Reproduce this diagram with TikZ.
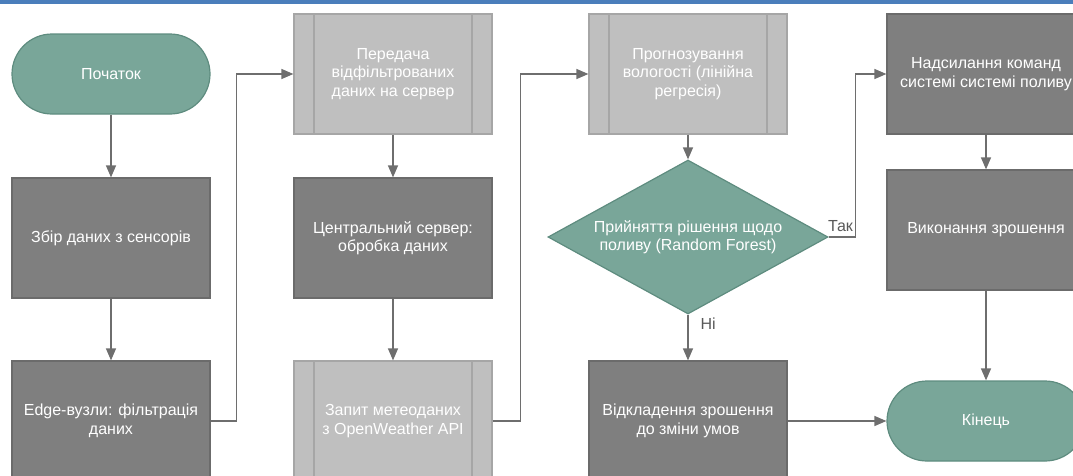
\documentclass[tikz,border=0pt]{standalone}
\usepackage{fontspec}
\setmainfont{Liberation Sans}
\usetikzlibrary{shapes.geometric, arrows.meta, positioning}

\definecolor{darkbox}{HTML}{7F7F7F}
\definecolor{darkline}{HTML}{6B6B6B}
\definecolor{lightbox}{HTML}{BFBFBF}
\definecolor{lightline}{HTML}{A6A6A6}
\definecolor{tealbox}{HTML}{79A699}
\definecolor{tealline}{HTML}{5E8C7F}
\definecolor{arrowgray}{HTML}{6E6E6E}
\definecolor{labelgray}{HTML}{595959}
\definecolor{topblue}{HTML}{4A7EBB}

\tikzstyle{startstop} = [rectangle, rounded corners=40pt, minimum width=198pt, minimum height=80pt, align=center, draw=tealline, fill=tealbox, line width=1.2pt, text=white]
\tikzstyle{process} = [rectangle, minimum width=198pt, minimum height=120pt, align=center, draw=darkline, fill=darkbox, line width=1.2pt, text=white]
\tikzstyle{subprocess} = [rectangle, minimum width=198pt, minimum height=120pt, align=center, draw=lightline, fill=lightbox, line width=1.2pt, text=white,
	path picture={\draw [lightline, line width=1.2pt] ([xshift=20pt]path picture bounding box.north west) -- ([xshift=20pt]path picture bounding box.south west) ([xshift=-20pt]path picture bounding box.north east) -- ([xshift=-20pt]path picture bounding box.south east);}]
\tikzstyle{decision} = [diamond, aspect=1.8, inner sep=0pt, minimum width=280pt, minimum height=154pt, align=center, draw=tealline, fill=tealbox, line width=1.2pt, text=white]
\tikzstyle{arrow} = [line width=1.3pt, draw=arrowgray, -{Triangle[length=12pt, width=10pt]}]
\tikzstyle{answer} = [text=labelgray, inner sep=2pt]

\begin{document}
\begin{tikzpicture}[node distance = 164pt, auto, font=\fontsize{16pt}{18.5pt}\selectfont]
	% Frame
	\useasboundingbox (0,0) rectangle (1073pt,-475pt);
	\clip (0,0) rectangle (1073pt,-475pt);
	\fill [topblue] (0,0) rectangle (1073pt,-4pt);
	% Place nodes
	\node [startstop] (Start) at (111pt,-74pt) {Початок};
	\node [process, below of=Start] (CollectData) {Збір даних з сенсорів};
	\node [process, below of=CollectData, yshift = -19pt] (EdgeFilter) {Edge-вузли: фільтрація\\даних};
	\node [subprocess, right of=Start, xshift = 118pt] (SendToServer) {Передача\\відфільтрованих\\даних на сервер};
	\node [process, below of=SendToServer] (CentralServer) {Центральний сервер:\\обробка даних};
	\node [subprocess, below of=CentralServer, yshift = -19pt] (WeatherRequest) {Запит метеоданих\\з OpenWeather API};
	\node [subprocess, right of=SendToServer, xshift = 131pt] (HumidityForecast) {Прогнозування\\вологості (лінійна\\регресія)};
	\node [decision, below of=HumidityForecast, yshift = 1pt] (IrrigationDecision) {Прийняття рішення щодо\\поливу (Random Forest)};
	\node [process, below of=IrrigationDecision, yshift = -20pt] (DelayIrrigation) {Відкладення зрошення\\до зміни умов};
	\node [process, right of=HumidityForecast, xshift = 134pt] (SendCommands) {Надсилання команд\\системі системі поливу};
	\node [process, below of=SendCommands, yshift = 8pt] (RunIrrigation) {Виконання зрошення};
	\node [startstop, below of=RunIrrigation, yshift = -27pt] (End) {Кінець};
	% Draw edges
	\draw [arrow] (Start) -- (CollectData);
	\draw [arrow] (CollectData) -- (EdgeFilter);
	\draw [arrow] (EdgeFilter.east) -- ++(26pt,0) |- (SendToServer.west);
	\draw [arrow] (SendToServer) -- (CentralServer);
	\draw [arrow] (CentralServer) -- (WeatherRequest);
	\draw [arrow] (WeatherRequest.east) -- ++(28pt,0) |- (HumidityForecast.west);
	\draw [arrow] (HumidityForecast) -- (IrrigationDecision);
	\draw [arrow] (IrrigationDecision.east) -- ++(27pt,0) node [answer, above left, yshift=3pt] {Так} |- (SendCommands.west);
	\draw [arrow] (IrrigationDecision) -- node [answer, right, pos=0.2, xshift=10pt] {Ні} (DelayIrrigation);
	\draw [arrow] (SendCommands) -- (RunIrrigation);
	\draw [arrow] (RunIrrigation) -- (End);
	\draw [arrow] (DelayIrrigation) -- (End);
\end{tikzpicture}
\end{document}
